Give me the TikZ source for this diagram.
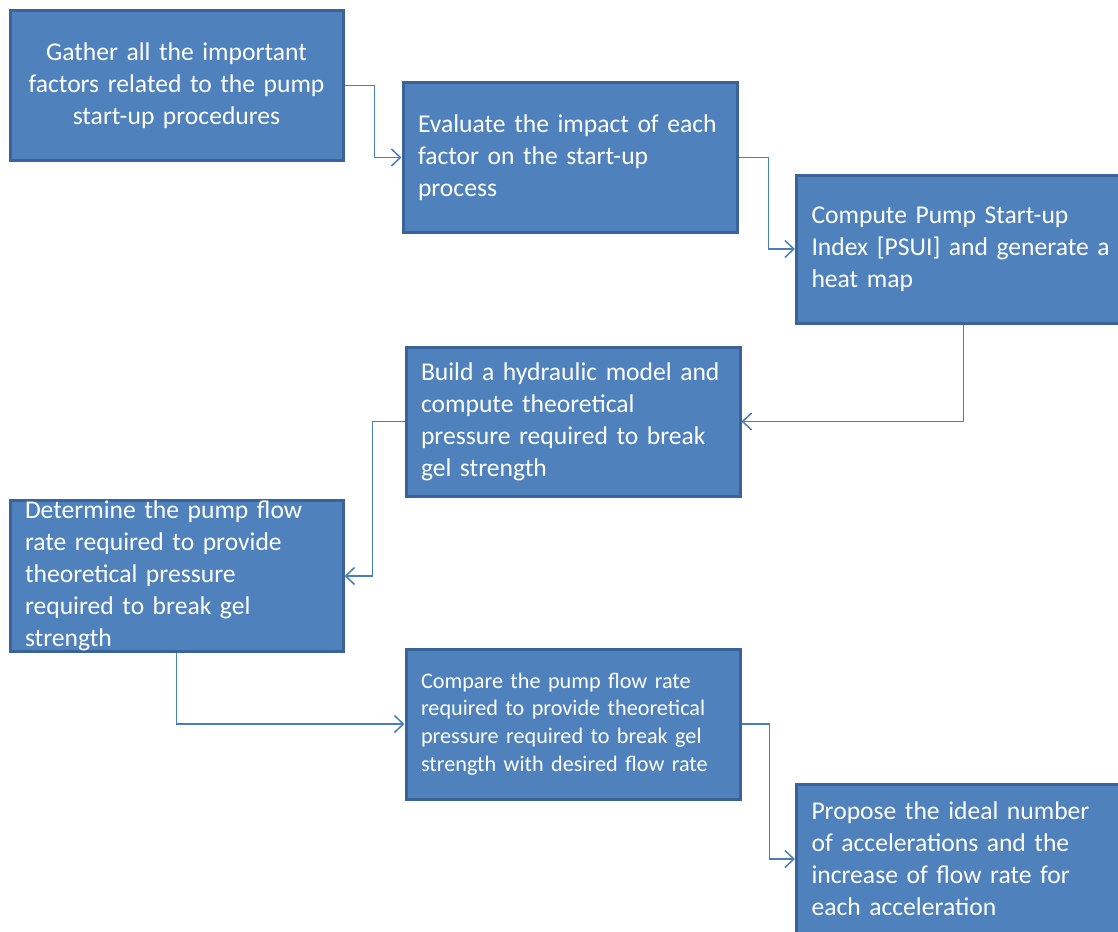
\documentclass[tikz,border=0pt]{standalone}
\usepackage{fontspec}
\setmainfont{Carlito}
\usetikzlibrary{arrows.meta}
\definecolor{boxfill}{HTML}{4F81BD}
\definecolor{boxedge}{HTML}{3A639A}
\definecolor{linkcol}{HTML}{4A7EBB}
\tikzset{
  stepbox/.style={rectangle, draw=boxedge, line width=3pt, fill=boxfill,
    text=white, font=\fontsize{25.6}{32}\selectfont, align=left,
    inner xsep=15pt, inner ysep=0pt},
  smallbox/.style={stepbox, font=\fontsize{22.2}{27.7}\selectfont},
  conn/.style={draw=linkcol, line width=1.5pt,
    -{Straight Barb[length=9pt, width=17pt, line width=1.5pt]}}
}
\begin{document}
\begin{tikzpicture}[x=1pt, y=-1pt]
\useasboundingbox (0,0) rectangle (1118,931);
\clip (0,0) rectangle (1118,931);
\node[stepbox, minimum width=333pt, minimum height=150pt, text width=303pt, align=center] (b1) at (176.5,85.5)
  {Gather all the important\\factors related to the pump\\start-up procedures};
\node[stepbox, minimum width=334pt, minimum height=149pt, text width=304pt] (b2) at (570,157.5)
  {Evaluate the impact of each\\factor on the start-up\\process};
\node[stepbox, anchor=west, minimum width=334pt, minimum height=148pt, text width=304pt] (b3) at (795,249)
  {Compute Pump Start-up\\Index [PSUI] and generate a\\heat map};
\node[stepbox, minimum width=334pt, minimum height=149pt, text width=304pt] (b4) at (573,421.5)
  {Build a hydraulic model and\\compute theoretical\\pressure required to break\\gel strength};
\node[stepbox, minimum width=333pt, minimum height=150pt, text width=303pt] (b5) at (176.5,576)
  {Determine the pump flow\\rate required to provide\\theoretical pressure\\required to break gel\\strength};
\node[smallbox, minimum width=334pt, minimum height=150pt, text width=304pt] (b6) at (573,724)
  {Compare the pump flow rate\\required to provide theoretical\\pressure required to break gel\\strength with desired flow rate};
\node[stepbox, anchor=west, minimum width=334pt, minimum height=150pt, text width=304pt] (b7) at (795,859)
  {Propose the ideal number\\of accelerations and the\\increase of flow rate for\\each acceleration};
\draw[conn] (b1.east) -- ++(30,0) |- (b2.west);
\draw[conn] (b2.east) -- ++(30,0) |- (b3.west);
\draw[conn] (b3.south) |- (b4.east);
\draw[conn] (b4.west) -- ++(-32,0) |- (b5.east);
\draw[conn] (b5.south) |- (b6.west);
\draw[conn] (b6.east) -- ++(28,0) |- (b7.west);
\end{tikzpicture}
\end{document}
